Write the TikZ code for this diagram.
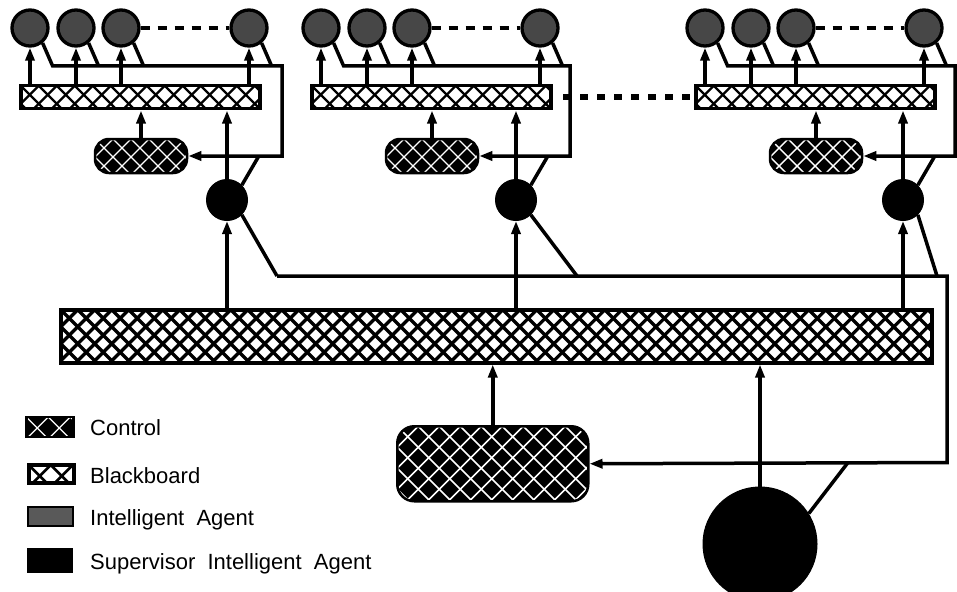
\documentclass[tikz,border=0pt]{standalone}
\usepackage{fontspec}
\setmainfont{Liberation Sans}
\usetikzlibrary{arrows.meta}

\tikzset{
  link/.style={line width=3.5pt, line join=miter},
  arr/.style={link, -{Triangle[length=13pt,width=9pt]}},
  % diagonal cross-hatching: period, colour, line width
  hatch/.style n args={3}{path picture={
      \foreach \i in {-8,...,75}{
        \draw[#2, line width=#3]
          ([xshift=\i*#1]path picture bounding box.north west)
          +(-100pt,-100pt) -- +(100pt,100pt)
          +(-100pt,100pt) -- +(100pt,-100pt);
      }}},
  board/.style 2 args={rectangle, draw, line width=3.5pt, fill=white,
    inner sep=0pt, hatch={#1}{black}{#2}},
  ctrl/.style n args={3}{rectangle, rounded corners=#3, draw, line width=2.5pt,
    fill=black, inner sep=0pt, hatch={#1}{white}{#2}},
  agent/.style={circle, draw, line width=3.3pt, fill=black!72,
    minimum size=36pt, inner sep=0pt},
  sup/.style={circle, draw, line width=1pt, fill=black, inner sep=0pt},
  legendtext/.style={anchor=base west, inner sep=0pt,
    font=\fontsize{22pt}{26pt}\selectfont},
}

% one local system: agents, blackboard, control and supervisor
% #1 tag, #2 left edge of the blackboard, #3 x of the return line,
% #4 x of the supervisor, #5 x where the supervisor joins the lower bus
\newcommand\agentgroup[5]{%
  \node[board={18pt}{2.4pt}, minimum width=239pt, minimum height=23pt,
        anchor=north west] (bb#1) at (#2,84) {};
  \foreach \k/\dx in {1/11,2/57,3/102,4/230}{
    \node[agent] (a#1\k) at (#2+\dx,28) {};
    \draw[arr] (a#1\k |- bb#1.north) -- (a#1\k.south);
  }
  \draw[link, dash pattern=on 9pt off 8pt] (a#13.east) -- (a#14.west);
  \node[ctrl={18pt}{1.4pt}{14pt}, minimum width=92pt, minimum height=34pt]
        (c#1) at (#2+122,156) {};
  \node[sup, minimum size=41pt] (s#1) at (#4,200) {};
  \coordinate (rt#1) at (#3,66);
  \coordinate (rb#1) at (#3,156);
  \coordinate (u#1) at ([xshift=10pt]a#11.-50 |- rt#1);
  \draw[arr] (a#11.-50) -- (u#1) -- (rt#1) -- (rb#1) -- (c#1.east);
  \foreach \k in {2,3,4}
    \draw[link] (a#1\k.-50) -- ([xshift=10pt]a#1\k.-50 |- rt#1);
  \draw[arr] (c#1.north) -- (c#1 |- bb#1.south);
  \draw[arr] (s#1.north) -- (s#1 |- bb#1.south);
  \draw[link] (s#1.45) -- ([xshift=17pt]s#1.45 |- rb#1);
  \coordinate (d#1) at (#5,276);
  \draw[link] (s#1.-45) -- (d#1);
  \draw[arr] (s#1 |- bigbb.north) -- (s#1.south);
}

\begin{document}
\begin{tikzpicture}[x=1pt, y=-1pt]
\useasboundingbox (0,0) rectangle (957,591);

% global blackboard, control and supervisor
\node[board={17pt}{3.2pt}, minimum width=871pt, minimum height=53pt,
      anchor=north west] (bigbb) at (59,308) {};
\node[ctrl={21pt}{1.6pt}{17pt}, minimum width=191pt, minimum height=75pt,
      anchor=north west] (bigc) at (396,425) {};
\node[sup, minimum size=114pt] (bigs) at (760,544) {};
\draw[arr] (bigc.north) -- (bigc |- bigbb.south);
\draw[arr] (bigs.north) -- (bigs |- bigbb.south);

% local systems
\agentgroup{1}{19}{282}{227}{277}
\agentgroup{2}{310}{570}{516}{577}
\agentgroup{3}{694}{955}{903}{937}

% further systems between the second and third group
\draw[line width=5.5pt, dash pattern=on 8pt off 9pt]
  ([xshift=-7pt]rt2 |- bb3.west) -- (bb3.west);

% lower bus from the supervisors back to the global control
\coordinate (rlt) at (947,276);
\coordinate (rlb) at (947,462.5);
\coordinate (bd) at (848,462.5);
\draw[arr] (d1) -- (rlt) -- (rlb) -- (bigc.east);
\draw[link] (bigs.32) -- (bd);

% legend
\node[ctrl={22pt}{1.3pt}{0pt}, minimum width=47pt, minimum height=20pt,
      anchor=west] (k1) at (25,427) {};
\node[board={22pt}{2.5pt}, minimum width=45pt, minimum height=18pt,
      anchor=west] (k2) at (27,474) {};
\node[rectangle, draw, line width=1.5pt, fill=black!65, minimum width=45pt,
      minimum height=19pt, anchor=west] (k3) at (27,516.5) {};
\node[rectangle, fill=black, minimum width=46pt, minimum height=25pt,
      anchor=west] (k4) at (27,560.5) {};
\node[legendtext] (t1) at (90,435) {Control};
\node[legendtext] (t2) at (90,483) {Blackboard};
\node[legendtext] (t3) at (90,525) {Intelligent\ \ Agent};
\node[legendtext] (t4) at (90,569) {Supervisor\ \ Intelligent\ \ Agent};
\end{tikzpicture}
\end{document}
